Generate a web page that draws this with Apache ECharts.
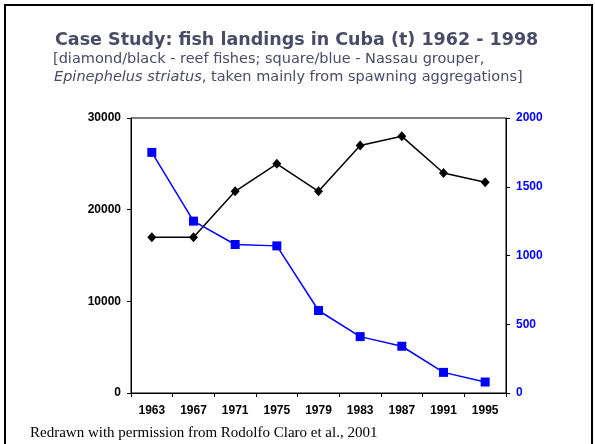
<!DOCTYPE html>
<html>
<head>
<meta charset="utf-8">
<script src="https://cdn.jsdelivr.net/npm/echarts@6/dist/echarts.min.js"></script>
<style>
html,body{margin:0;padding:0;background:#fff;}
#chart{width:595px;height:444px;}
</style>
</head>
<body>
<div id="chart"></div>
<script>
const years = ['1963','1967','1971','1975','1979','1983','1987','1991','1995'];
const reefFishes = [17000, 17000, 22000, 25000, 22000, 27000, 28000, 24000, 23000];
const nassauGrouper = [1750, 1250, 1080, 1070, 600, 410, 340, 150, 80];
const leftTicks = { min: 0, max: 30000, interval: 10000 };
const rightTicks = { min: 0, max: 2000, interval: 500 };

const titleColor = '#4b4b68';
const chart = echarts.init(document.getElementById('chart'), null, { renderer: 'canvas' });
chart.setOption({
  backgroundColor: '#ffffff',
  animation: false,
  grid: { left: 131, right: 89, top: 118, bottom: 51, show: true, borderColor: '#000', borderWidth: 1, backgroundColor: 'transparent' },
  xAxis: {
    type: 'category',
    data: years,
    boundaryGap: true,
    axisLine: { lineStyle: { color: '#000', width: 1 } },
    axisTick: { show: true, length: 4, lineStyle: { color: '#000' } },
    axisLabel: { color: '#000', fontFamily: 'Liberation Sans', fontWeight: 'bold', fontSize: 12, margin: 12 },
    splitLine: { show: false }
  },
  yAxis: [
    {
      type: 'value', position: 'left',
      min: leftTicks.min, max: leftTicks.max, interval: leftTicks.interval,
      axisLine: { show: true, lineStyle: { color: '#000', width: 1 } },
      axisTick: { show: true, length: 4, lineStyle: { color: '#000' } },
      axisLabel: { color: '#000', fontFamily: 'Liberation Sans', fontWeight: 'bold', fontSize: 12, margin: 10, formatter: v => String(v) },
      splitLine: { show: false }
    },
    {
      type: 'value', position: 'right',
      min: rightTicks.min, max: rightTicks.max, interval: rightTicks.interval,
      axisLine: { show: true, lineStyle: { color: '#000', width: 1 } },
      axisTick: { show: true, length: 4, lineStyle: { color: '#000' } },
      axisLabel: { color: '#0000ff', fontFamily: 'Liberation Sans', fontWeight: 'bold', fontSize: 12, margin: 10, formatter: v => String(v) },
      splitLine: { show: false }
    }
  ],
  series: [
    {
      name: 'reef fishes', type: 'line', yAxisIndex: 0, data: reefFishes,
      symbol: 'diamond', symbolSize: [9, 10],
      itemStyle: { color: '#000' },
      lineStyle: { color: '#000', width: 1.5 }
    },
    {
      name: 'Nassau grouper', type: 'line', yAxisIndex: 1, data: nassauGrouper,
      symbol: 'rect', symbolSize: 9,
      itemStyle: { color: '#0000ff' },
      lineStyle: { color: '#0000ff', width: 1.5 }
    }
  ],
  graphic: [
    { type: 'rect', shape: { x: 5, y: 5, width: 587, height: 470 }, style: { fill: 'none', stroke: '#000', lineWidth: 2 }, silent: true },
    { type: 'text', x: 55, y: 40, style: { text: 'Case Study: fish landings in Cuba (t) 1962 - 1998', fill: titleColor, font: 'bold 17.5px "DejaVu Sans"', textVerticalAlign: 'middle' } },
    { type: 'text', x: 53, y: 59, style: { text: '[diamond/black - reef fishes; square/blue - Nassau grouper,', fill: titleColor, font: '14.5px "DejaVu Sans"', textVerticalAlign: 'middle' } },
    { type: 'text', x: 54, y: 77, style: {
        text: '{i|Epinephelus striatus}{n|, taken mainly from spawning aggregations]}',
        verticalAlign: 'middle',
        rich: {
          i: { fill: titleColor, fontFamily: 'DejaVu Sans', fontSize: 14.5, fontStyle: 'italic' },
          n: { fill: titleColor, fontFamily: 'DejaVu Sans', fontSize: 14.5 }
        }
      } },
    { type: 'text', x: 30, y: 433, style: { text: 'Redrawn with permission from Rodolfo Claro et al., 2001', fill: '#000', font: '15px "Liberation Serif"', textVerticalAlign: 'middle' } }
  ]
});
</script>
</body>
</html>
